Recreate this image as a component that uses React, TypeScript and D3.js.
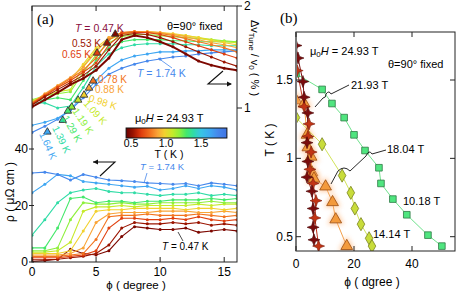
import React from 'react';
import * as d3 from 'd3';

// ---------- data ----------
const PHI = [0, 1, 2, 3, 4, 5, 6, 7, 8, 9, 10, 11, 12, 13, 14, 15, 16];
const TEMPS = [0.47, 0.53, 0.65, 0.78, 0.88, 0.98, 1.09, 1.19, 1.29, 1.39, 1.64, 1.74];

// Δv_Tune / v0 (%) per temperature (right axis)
const DV_047 = [1.01, 1.08, 1.15, 1.23, 1.29, 1.37, 1.49, 1.67, 1.71, 1.69, 1.65, 1.60, 1.53, 1.46, 1.42, 1.39, 1.37];
const DV_053 = [1.03, 1.11, 1.18, 1.25, 1.32, 1.41, 1.57, 1.71, 1.73, 1.72, 1.69, 1.65, 1.60, 1.55, 1.50, 1.45, 1.41];
const DV_065 = [1.04, 1.12, 1.20, 1.27, 1.35, 1.44, 1.62, 1.73, 1.74, 1.74, 1.72, 1.69, 1.65, 1.61, 1.57, 1.53, 1.49];
const DV_078 = [1.05, 1.13, 1.21, 1.29, 1.37, 1.49, 1.67, 1.74, 1.75, 1.74, 1.73, 1.71, 1.68, 1.65, 1.62, 1.59, 1.55];
const DV_088 = [1.05, 1.14, 1.22, 1.30, 1.40, 1.55, 1.69, 1.74, 1.75, 1.75, 1.74, 1.72, 1.70, 1.67, 1.64, 1.62, 1.59];
const DV_098 = [1.06, 1.12, 1.20, 1.27, 1.43, 1.59, 1.69, 1.73, 1.75, 1.75, 1.74, 1.73, 1.71, 1.69, 1.66, 1.64, 1.62];
const DV_109 = [1.07, 1.12, 1.16, 1.18, 1.41, 1.57, 1.67, 1.72, 1.74, 1.74, 1.73, 1.72, 1.71, 1.69, 1.67, 1.65, 1.64];
const DV_119 = [1.08, 1.12, 1.14, 1.16, 1.35, 1.52, 1.64, 1.70, 1.72, 1.72, 1.71, 1.70, 1.69, 1.68, 1.67, 1.66, 1.65];
const DV_129 = [1.07, 1.08, 1.10, 1.08, 1.27, 1.47, 1.59, 1.65, 1.67, 1.67, 1.67, 1.66, 1.66, 1.65, 1.65, 1.65, 1.65];
const DV_139 = [1.05, 1.05, 1.00, 1.02, 1.20, 1.41, 1.53, 1.59, 1.62, 1.63, 1.63, 1.63, 1.62, 1.62, 1.61, 1.61, 1.61];
const DV_164 = [0.83, 0.86, 0.90, 0.98, 1.13, 1.27, 1.39, 1.47, 1.51, 1.53, 1.55, 1.55, 1.56, 1.56, 1.57, 1.57, 1.57];
const DV_174 = [0.76, 0.82, 0.89, 0.98, 1.10, 1.23, 1.33, 1.39, 1.43, 1.46, 1.48, 1.50, 1.51, 1.53, 1.54, 1.55, 1.56];
const DV = [DV_047, DV_053, DV_065, DV_078, DV_088, DV_098, DV_109, DV_119, DV_129, DV_139, DV_164, DV_174];

// ρ (μΩ cm) per temperature (left axis)
const RHO_047 = [0.2, 0.5, 1, 4.5, 3, 2.5, 4, 9, 12.5, 12, 11.5, 11.5, 12, 10.5, 11, 11.5, 11];
const RHO_053 = [0.8, 0.8, 1, 1.5, 2, 3, 6, 12, 14, 13.5, 13.5, 14, 13.5, 14, 13, 13.5, 13];
const RHO_065 = [1.5, 1.5, 1.5, 2, 2.5, 4, 12, 15.5, 15.5, 15, 15, 15.5, 15, 16, 15, 14.5, 15];
const RHO_078 = [2, 2, 2, 2.5, 3, 8, 16, 16.5, 16.5, 17, 16.5, 16.5, 16.5, 17, 16.5, 16, 16.5];
const RHO_088 = [2.5, 2.5, 2.5, 3, 5, 14, 17, 17.5, 17.5, 17.5, 18, 18, 18, 17.5, 17.5, 18, 17.5];
const RHO_098 = [3, 3, 3, 4, 11, 18, 18.5, 18.5, 19, 19, 19, 19, 18.5, 19, 19, 18.5, 19];
const RHO_109 = [3.5, 3.5, 4, 7, 18, 19.5, 19.5, 20, 19.5, 20, 20, 20, 20, 20.5, 20, 20.5, 20.5];
const RHO_119 = [4, 4, 5, 15, 21, 20.5, 20.5, 21, 20.5, 20.5, 21, 21, 21, 21, 21.5, 21, 21];
const RHO_129 = [5, 5, 12, 22.5, 23, 21, 21.5, 21.5, 21, 21.5, 21.5, 22, 22, 22, 22.5, 22, 22.5];
const RHO_139 = [9.5, 15, 21, 24.5, 25.5, 26, 25, 24.5, 24.5, 24, 23.5, 24, 24, 24.5, 23.5, 24, 23.5];
const RHO_164 = [24.5, 27.5, 31, 30.5, 28.5, 28, 27.5, 27, 26.5, 26.8, 25.5, 26, 27, 26, 27, 26.5, 25.5];
const RHO_174 = [31.5, 31.8, 31, 29, 31, 30, 29, 28.8, 28.5, 28, 27.8, 27.5, 27.8, 27, 28, 27.5, 27];
const RHO = [RHO_047, RHO_053, RHO_065, RHO_078, RHO_088, RHO_098, RHO_109, RHO_119, RHO_129, RHO_139, RHO_164, RHO_174];

// transition markers (triangles) on Δv curves: [phi, Δv]
const MARK_PHI = [6.5, 5.86, 5.08, 4.77, 4.45, 4.06, 3.6, 3.1, 2.8, 2.4, 1.2];
const MARK_DV = [1.725, 1.637, 1.539, 1.265, 1.196, 1.127, 1.078, 1.01, 0.97, 0.88, 0.765];

// colour map of T
const CMAP_T = [0.43, 0.53, 0.6, 0.65, 0.78, 0.88, 0.98, 1.09, 1.19, 1.29, 1.39, 1.5, 1.64, 1.74, 1.87];
const CMAP_C = ['#6a0000', '#9a1400', '#c82a08', '#e0400f', '#f27420', '#f9a437', '#f2d12e', '#c6ea2a', '#8ef03c', '#44e86a', '#30dca6', '#38c4e4', '#3ea6f2', '#4688ec', '#3f74e4'];
const CBAR_TICKS = [0.5, 1.0, 1.5];

// panel (b): phase boundary
const B10_PHI = [0, 9, 12.4, 16.6, 20, 23.8, 28.6, 29.3, 33.4, 38.2, 45.5, 50.3];
const B10_T = [1.54, 1.44, 1.35, 1.26, 1.15, 1.05, 0.94, 0.84, 0.74, 0.64, 0.51, 0.44];
const B14_PHI = [0, 9, 15.9, 18.9, 20.3, 22.4, 25.2, 26.2];
const B14_T = [1.26, 1.09, 0.89, 0.78, 0.68, 0.58, 0.49, 0.44];
const B18_PHI = [0, 2.8, 3.8, 4.1, 5.2, 5.5, 6.2, 10.2, 12.6, 13.7, 17.5];
const B18_T = [1.37, 1.35, 1.15, 1.07, 1.01, 0.91, 0.87, 0.82, 0.72, 0.61, 0.44];
const B22_PHI = [0.4, 2.8, 4.5, 4.1, 5.2, 4.8, 5.9, 6.9, 6.5, 7.8];
const B22_T = [1.56, 1.33, 1.22, 1.14, 1.04, 0.93, 0.84, 0.73, 0.62, 0.44];
const B25_PHI = [0, 0.7, 2.4, 2.8, 4.1, 3.8, 4.1, 3.8, 5.5, 5.9, 5.9, 6.2];
const B25_T = [1.72, 1.64, 1.49, 1.39, 1.29, 1.10, 0.98, 0.88, 0.79, 0.68, 0.56, 0.48];

const XA_TICKS = [0, 5, 10, 15];
const RHO_TICKS = [0, 20, 40];
const DV_TICKS = [1, 2];
const XB_TICKS = [0, 20, 40];
const TB_TICKS = [0.5, 1, 1.5];

// ---------- layout ----------
const W = 463, H = 292;
const A = { l: 32, r: 237, t: 6, b: 262 };
const B = { l: 296, r: 455, t: 32, b: 251 };
const FONT = 'Liberation Sans, Arial, Helvetica, sans-serif';

const xA = d3.scaleLinear().domain([0, 16]).range([A.l, A.r]);
const yRho = d3.scaleLinear().domain([0, 40]).range([A.b, 149]);
const yDv = d3.scaleLinear().domain([1, 2]).range([108, A.t]);
const xB = d3.scaleLinear().domain([0, 40]).range([B.l, 412]);
const yB = d3.scaleLinear().domain([0.5, 1.5]).range([236.7, 80]);
const cmap = d3.scaleLinear<string>().domain(CMAP_T).range(CMAP_C).interpolate(d3.interpolateRgb);
const cbX = d3.scaleLinear().domain([0.5, 1.5]).range([131, 201]);
const CB_MIN = 0.43, CB_MAX = 1.87;

const star4 = (r: number) => {
  const p = d3.path();
  const ri = r * 0.38;
  for (let i = 0; i < 8; i++) {
    const a = (Math.PI / 4) * i - Math.PI / 2;
    const rr = i % 2 === 0 ? r : ri;
    const x = rr * Math.cos(a), y = rr * Math.sin(a);
    if (i === 0) p.moveTo(x, y); else p.lineTo(x, y);
  }
  p.closePath();
  return p.toString();
};

export default function App() {
  const lineDv = d3.line<number>().x((_, i) => xA(PHI[i])).y((d) => yDv(d));
  const lineRho = d3.line<number>().x((_, i) => xA(PHI[i])).y((d) => yRho(d));
  const lineB = (px: number[], py: number[]) =>
    d3.line<number>().x((d) => xB(d)).y((_, i) => yB(py[i]))(px) || '';
  const tri = d3.symbol().type(d3.symbolTriangle).size(24)() || '';
  const triB = d3.symbol().type(d3.symbolTriangle).size(60)() || '';
  const sq = d3.symbol().type(d3.symbolSquare).size(44)() || '';
  const dia = d3.symbol().type(d3.symbolDiamond).size(50)() || '';
  const st = star4(6);

  const tText = (x: number, y: number, txt: string, T: number, rot = 0) => (
    <text x={x} y={y} fill={cmap(T)} fontSize={10} transform={rot ? `rotate(${rot},${x},${y})` : undefined}>{txt}</text>
  );

  return (
    <div style={{ position: 'absolute', left: 0, top: 0 }}>
      <svg width={W} height={H} style={{ display: 'block', fontFamily: FONT }}>
        <defs>
          <clipPath id="clipA"><rect x={A.l} y={A.t} width={A.r - A.l} height={A.b - A.t} /></clipPath>
          <clipPath id="clipB"><rect x={B.l} y={B.t} width={B.r - B.l} height={B.b - B.t} /></clipPath>
          <linearGradient id="cbar" x1="0" x2="1" y1="0" y2="0">
            {CMAP_T.map((t, i) => (
              <stop key={i} offset={Math.max(0, Math.min(1, (t - CB_MIN) / (CB_MAX - CB_MIN)))} stopColor={CMAP_C[i]} />
            ))}
          </linearGradient>
          <filter id="glow" x="-50%" y="-50%" width="200%" height="200%">
            <feGaussianBlur stdDeviation="2" />
          </filter>
        </defs>
        <rect width={W} height={H} fill="#fff" />

        {/* ---------- panel (a) ---------- */}
        <g clipPath="url(#clipA)">
          {RHO.map((arr, k) => (
            <g key={'r' + k}>
              <path d={lineRho(arr) || ''} fill="none" stroke={cmap(TEMPS[k])} strokeWidth={1.1} />
              {arr.map((v, i) => <circle key={i} cx={xA(PHI[i])} cy={yRho(v)} r={1.5} fill={cmap(TEMPS[k])} />)}
            </g>
          ))}
          {DV.map((arr, k) => k).reverse().map((k) => (
            <g key={'d' + k}>
              <path d={lineDv(DV[k]) || ''} fill="none" stroke={cmap(TEMPS[k])} strokeWidth={k === 0 ? 2 : 1.1} />
              {DV[k].map((v, i) => <circle key={i} cx={xA(PHI[i])} cy={yDv(v)} r={1.5} fill={cmap(TEMPS[k])} />)}
            </g>
          ))}
          {MARK_PHI.map((p, i) => (
            <path key={'m' + i} d={tri} transform={`translate(${xA(p)},${yDv(MARK_DV[i])})`} fill={cmap(TEMPS[i])} stroke="#333" strokeWidth={0.9} />
          ))}
        </g>
        <rect x={A.l} y={A.t} width={A.r - A.l} height={A.b - A.t} fill="none" stroke="#222" strokeWidth={1} />
        {XA_TICKS.map((t) => (
          <g key={'xa' + t}>
            <line x1={xA(t)} x2={xA(t)} y1={A.b} y2={A.b - 5} stroke="#222" />
            <line x1={xA(t)} x2={xA(t)} y1={A.t} y2={A.t + 5} stroke="#222" />
            <text x={xA(t)} y={A.b + 14} textAnchor="middle" fontSize={12}>{t}</text>
          </g>
        ))}
        {RHO_TICKS.map((t) => (
          <g key={'ra' + t}>
            <line x1={A.l - 3} x2={A.l + 2} y1={yRho(t)} y2={yRho(t)} stroke="#222" />
            <text x={A.l - 4} y={yRho(t) + 4} textAnchor="end" fontSize={12}>{t}</text>
          </g>
        ))}
        {DV_TICKS.map((t) => (
          <g key={'da' + t}>
            <line x1={A.r} x2={A.r + 5} y1={yDv(t)} y2={yDv(t)} stroke="#222" />
            <text x={A.r + 7} y={yDv(t) + 4} fontSize={12}>{t}</text>
          </g>
        ))}
        <text x={37} y={24} fontSize={15} fontFamily="Liberation Serif, Times New Roman, serif">(a)</text>
        <text x={167} y={30} fontSize={11}>θ=90° fixed</text>
        {/* temperature labels */}
        <text x={75} y={32} fontSize={10.5} fill="#8a1040"><tspan fontStyle="italic">T</tspan> = 0.47 K</text>
        {tText(72, 47, '0.53 K', 0.53)}
        {tText(62, 58, '0.65 K', 0.65)}
        {tText(98, 83, '0.78 K', 0.78)}
        {tText(95, 93, '0.88 K', 0.88)}
        {tText(88, 101, '0.98 K', 0.98, 18)}
        {tText(83, 104, '1.09 K', 1.09, 48)}
        {tText(72, 111, '1.19 K', 1.19, 56)}
        {tText(62, 118, '1.29 K', 1.29, 60)}
        {tText(52, 128, '1.39 K', 1.39, 64)}
        {tText(39, 134, '1.64 K', 1.64, 66)}
        <text x={137} y={77} fontSize={10.5} fill={cmap(1.74)}><tspan fontStyle="italic">T</tspan> = 1.74 K</text>
        <line x1={172} y1={68} x2={158} y2={58} stroke={cmap(1.74)} strokeWidth={0.8} />
        <text x={140} y={170} fontSize={9.5} fill={cmap(1.74)}><tspan fontStyle="italic">T</tspan> = 1.74 K</text>
        <line x1={147} y1={173} x2={144} y2={183} stroke={cmap(1.74)} strokeWidth={0.8} />
        <text x={162} y={250} fontSize={10}><tspan fontStyle="italic">T</tspan> = 0.47 K</text>
        <line x1={183} y1={241} x2={178} y2={232} stroke="#222" strokeWidth={0.8} />
        {/* direction arrows */}
        <path d="M100,176 L115,162 L93,162" fill="none" stroke="#111" strokeWidth={1.1} />
        <path d="M93,162 l5,-2.5 v5 z" fill="#111" />
        <path d="M223,71 L208,84 L231,84" fill="none" stroke="#111" strokeWidth={1.1} />
        <path d="M232,84 l-5,-2.5 v5 z" fill="#111" />
        {/* colorbar */}
        <text x={135} y={122} fontSize={11}>μ<tspan fontSize={8} dy={2}>0</tspan><tspan dy={-2} fontStyle="italic">H</tspan> = 24.93 T</text>
        <rect x={cbX(CB_MIN)} y={128} width={cbX(CB_MAX) - cbX(CB_MIN)} height={10} fill="url(#cbar)" stroke="#111" strokeWidth={1} />
        {CBAR_TICKS.map((t) => (
          <text key={'cb' + t} x={cbX(t)} y={147} textAnchor="middle" fontSize={10.5}>{t.toFixed(1)}</text>
        ))}
        <text x={169} y={158} textAnchor="middle" fontSize={10.5}>T ( K )</text>
        {/* axis labels */}
        <text transform="translate(14,192) rotate(-90)" textAnchor="middle" fontSize={12}>ρ ( μΩ cm )</text>
        <text x={136} y={289} textAnchor="middle" fontSize={11.5}>ϕ ( degree )</text>
        <text transform="translate(251,58) rotate(90)" textAnchor="middle" fontSize={11}>
          Δv<tspan fontSize={8} dy={2}>Tune</tspan><tspan dy={-2}> / v</tspan><tspan fontSize={8} dy={2}>0</tspan><tspan dy={-2}> ( % )</tspan>
        </text>

        {/* ---------- panel (b) ---------- */}
        <g clipPath="url(#clipB)">
          <path d={lineB(B10_PHI, B10_T)} fill="none" stroke="#6fe28c" strokeWidth={1} />
          <path d={lineB(B14_PHI, B14_T)} fill="none" stroke="#d2e45a" strokeWidth={1} />
          <path d={lineB(B18_PHI, B18_T)} fill="none" stroke="#f3a04c" strokeWidth={1} />
          <path d={lineB(B22_PHI, B22_T)} fill="none" stroke="#c0301a" strokeWidth={1} />
          <path d={lineB(B25_PHI, B25_T)} fill="none" stroke="#7a1010" strokeWidth={1} />
          {B10_PHI.map((p, i) => (
            <path key={'s' + i} d={sq} transform={`translate(${xB(p)},${yB(B10_T[i])})`} fill="#4fe57f" stroke="#2f7a45" strokeWidth={0.8} />
          ))}
          {B14_PHI.map((p, i) => (
            <path key={'dd' + i} d={dia} transform={`translate(${xB(p)},${yB(B14_T[i])})`} fill="#c8dc3a" stroke="#7a8420" strokeWidth={0.8} />
          ))}
          {B18_PHI.map((p, i) => (
            <g key={'t' + i} transform={`translate(${xB(p)},${yB(B18_T[i])})`}>
              <path d={triB} fill="#ffb070" opacity={0.7} filter="url(#glow)" transform="scale(1.4)" />
              <path d={triB} fill="#f39a3c" stroke="#9a4c10" strokeWidth={0.8} />
            </g>
          ))}
          {B22_PHI.map((p, i) => (
            <path key={'r2' + i} d={st} transform={`translate(${xB(p)},${yB(B22_T[i])})`} fill="#c23414" stroke="#7a1a08" strokeWidth={0.6} />
          ))}
          {B25_PHI.map((p, i) => (
            <path key={'r5' + i} d={st} transform={`translate(${xB(p)},${yB(B25_T[i])})`} fill="#7a0c0c" stroke="#4a0606" strokeWidth={0.6} />
          ))}
        </g>
        <rect x={B.l} y={B.t} width={B.r - B.l} height={B.b - B.t} fill="none" stroke="#222" strokeWidth={1} />
        <line x1={B.l} x2={B.l} y1={B.t} y2={B.b} stroke="#777" strokeWidth={2} />
        {XB_TICKS.map((t) => (
          <g key={'xb' + t}>
            <line x1={xB(t)} x2={xB(t)} y1={B.b} y2={B.b - 5} stroke="#222" />
            <line x1={xB(t)} x2={xB(t)} y1={B.t} y2={B.t + 5} stroke="#222" />
            <text x={xB(t)} y={B.b + 17} textAnchor="middle" fontSize={12}>{t}</text>
          </g>
        ))}
        {TB_TICKS.map((t) => (
          <g key={'tb' + t}>
            <line x1={B.l} x2={B.l + 5} y1={yB(t)} y2={yB(t)} stroke="#222" />
            <line x1={B.r} x2={B.r - 5} y1={yB(t)} y2={yB(t)} stroke="#222" />
            <text x={B.l - 3} y={yB(t) + 4} textAnchor="end" fontSize={12}>{t}</text>
          </g>
        ))}
        <text x={280} y={23} fontSize={15} fontFamily="Liberation Serif, Times New Roman, serif">(b)</text>
        <text x={310} y={55} fontSize={11}>μ<tspan fontSize={8} dy={2}>0</tspan><tspan dy={-2} fontStyle="italic">H</tspan> = 24.93 T</text>
        <text x={388} y={68} fontSize={11}>θ=90° fixed</text>
        <text x={351} y={89} fontSize={11}>21.93 T</text>
        <path d="M349,85 L331,94 q-2,-4 -5,0 q0,4 -3,4 L315,107" fill="none" stroke="#111" strokeWidth={0.9} />
        <text x={387} y={153} fontSize={11}>18.04 T</text>
        <path d="M386,150 L372,154 q-3,-5 -6,2 L350,171 q-6,-6 -12,0 L331,184" fill="none" stroke="#111" strokeWidth={0.9} />
        <text x={403} y={205} fontSize={11}>10.18 T</text>
        <text x={373} y={238} fontSize={11}>14.14 T</text>
        <text transform="translate(274,140) rotate(-90)" textAnchor="middle" fontSize={12}>T ( K )</text>
        <text x={372} y={286} textAnchor="middle" fontSize={12}>ϕ ( dgree )</text>
      </svg>
    </div>
  );
}
